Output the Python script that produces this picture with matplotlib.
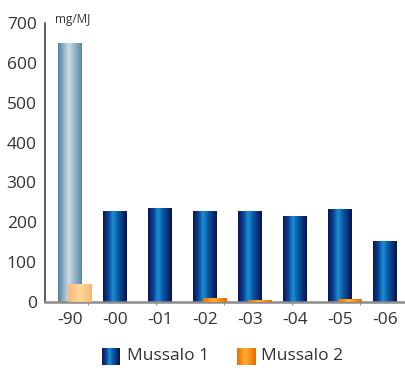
import numpy as np
import matplotlib
matplotlib.use("Agg")
import matplotlib.pyplot as plt
from matplotlib.colors import LinearSegmentedColormap

# Emission values per year (mg/MJ)
years = ["-90", "-00", "-01", "-02", "-03", "-04", "-05", "-06"]
mussalo1 = [650, 228, 237, 228, 228, 216, 233, 153]
mussalo2 = [45, 0, 0, 10, 5, 0, 8, 0]
y_ticks = [0, 100, 200, 300, 400, 500, 600, 700]
unit_label = "mg/MJ"
series_names = ["Mussalo 1", "Mussalo 2"]

plt.rcParams['font.family'] = ['Open Sans', 'DejaVu Sans']
TEXT = "#333333"

# Horizontal gradients giving the bars a cylindrical look
blue = LinearSegmentedColormap.from_list(
    "blue", [(0, "#0c1458"), (0.22, "#0a418f"), (0.42, "#1a8fd6"),
             (0.62, "#0a5aa6"), (1, "#0b0f50")])
steel = LinearSegmentedColormap.from_list(
    "steel", [(0, "#55819f"), (0.45, "#cddde8"), (1, "#5a86a4")])
orange = LinearSegmentedColormap.from_list(
    "orange", [(0, "#e8700c"), (0.45, "#ffb02a"), (1, "#e86a08")])
peach = LinearSegmentedColormap.from_list(
    "peach", [(0, "#f8b880"), (0.5, "#ffd898"), (1, "#f8b47a")])

fig = plt.figure(figsize=(4.06, 3.68), dpi=100)
ax = fig.add_axes([45 / 406, 66 / 368, 360 / 406, 279 / 368])

x = np.arange(len(years))
width = 0.533
offset = 0.222

grad = np.linspace(0, 1, 256).reshape(1, -1)


def paint(bars, cmaps, z):
    for patch, cm in zip(bars, cmaps):
        h = patch.get_height()
        if h <= 0:
            continue
        x0 = patch.get_x()
        x1 = x0 + patch.get_width()
        im = ax.imshow(grad, cmap=cm, extent=[x0, x1, 0, h],
                       aspect="auto", zorder=z, interpolation="bilinear")
        im.set_clip_path(patch)
        patch.set_facecolor("none")
        patch.set_edgecolor("none")


b1 = ax.bar(x, mussalo1, width, zorder=2)
b2 = ax.bar(x + offset, mussalo2, width, zorder=3)
paint(b1, [steel] + [blue] * (len(years) - 1), 2)
paint(b2, [peach] + [orange] * (len(years) - 1), 3)

ax.set_xlim(-0.556, 7.444)
ax.set_ylim(0, 700)

for s in ("top", "right"):
    ax.spines[s].set_visible(False)
ax.spines["left"].set_color(TEXT)
ax.spines["left"].set_linewidth(1.1)
ax.spines["bottom"].set_color("#8c8c8c")
ax.spines["bottom"].set_linewidth(1.8)

ax.set_yticks(y_ticks)
ax.set_yticklabels([str(v) for v in y_ticks])
ax.tick_params(axis="y", length=0, pad=6, labelsize=12.5, labelcolor=TEXT)

ax.set_xticks(x)
ax.set_xticklabels(years)
ax.tick_params(axis="x", which="major", length=0, pad=7, labelsize=12.5,
               labelcolor=TEXT)
ax.set_xticks(0.41 + 1.51 * np.arange(5), minor=True)
ax.tick_params(axis="x", which="minor", length=2.5, width=0.8,
               color="#8c8c8c", direction="out")

fig.text(55 / 406, 1 - 20 / 368, unit_label, fontsize=8.5, color=TEXT,
         ha="left", va="center")

# Legend swatches and labels
for (sx, tx), cm, name in zip([(102, 127), (237, 261)], [blue, orange],
                              series_names):
    sw = fig.add_axes([sx / 406, 3 / 368, 18 / 406, 17 / 368])
    sw.imshow(grad, cmap=cm, aspect="auto", interpolation="bilinear")
    sw.set_axis_off()
    fig.text(tx / 406, 1 - 356.5 / 368, name, fontsize=12.5, color=TEXT,
             ha="left", va="center")

fig.savefig("out.png", dpi=100)
